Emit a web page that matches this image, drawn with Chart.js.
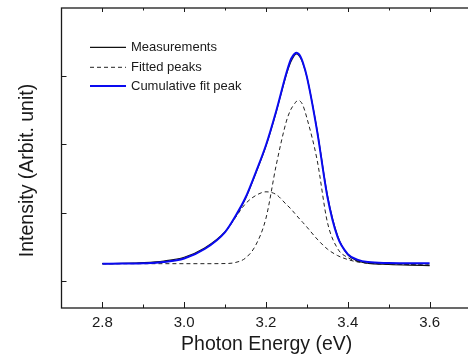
<!DOCTYPE html>
<html>
<head>
<meta charset="utf-8">
<script src="https://cdn.jsdelivr.net/npm/chart.js@4/dist/chart.umd.min.js"></script>
<style>
  html, body { margin: 0; padding: 0; background: #fff; overflow: hidden; }
  #wrap { width: 480px; height: 363px; }
</style>
</head>
<body>
<div id="wrap"><canvas id="myChart" width="480" height="363"></canvas></div>
<script>
// photon energy (eV) shared by all curves
const energy = [2.80, 2.85, 2.90, 2.95, 3.00, 3.05, 3.10, 3.125, 3.15, 3.175, 3.20, 3.225, 3.25,
  3.26, 3.265, 3.27, 3.275, 3.28, 3.285, 3.29, 3.30, 3.325, 3.35, 3.375, 3.40, 3.425, 3.45, 3.50, 3.55, 3.60];

const measured = [0.250, 0.254, 0.265, 0.290, 0.345, 0.480, 0.720, 0.935, 1.205, 1.575, 1.975, 2.475, 3.025,
  3.200, 3.260, 3.310, 3.325, 3.305, 3.260, 3.190, 2.990, 2.210, 1.260, 0.660, 0.380, 0.290, 0.255, 0.238, 0.228, 0.222];

const cumulative = [0.249, 0.251, 0.256, 0.274, 0.326, 0.465, 0.714, 0.945, 1.220, 1.590, 1.990, 2.490, 3.050,
  3.236, 3.290, 3.330, 3.345, 3.325, 3.280, 3.205, 2.990, 2.195, 1.236, 0.642, 0.391, 0.306, 0.274, 0.260, 0.255, 0.255];

const peakNarrow = [0.250, 0.250, 0.250, 0.250, 0.250, 0.250, 0.252, 0.267, 0.333, 0.523, 0.919, 1.696, 2.342,
  2.503, 2.555, 2.598, 2.635, 2.645, 2.625, 2.576, 2.386, 1.770, 0.861, 0.472, 0.340, 0.282, 0.260, 0.248, 0.238, 0.230];

const peakBroad = [0.250, 0.252, 0.258, 0.276, 0.330, 0.470, 0.710, 0.925, 1.130, 1.250, 1.304, 1.264, 1.117,
  1.060, 1.025, 0.990, 0.956, 0.920, 0.888, 0.855, 0.787, 0.611, 0.465, 0.369, 0.311, 0.274, 0.255, 0.245, 0.238, 0.230];

const xTicks = [2.8, 3.0, 3.2, 3.4, 3.6];
const xMinorTicks = [2.9, 3.1, 3.3, 3.5];
const yTicks = [0, 1, 2, 3];

const legendItems = [
  { label: 'Measurements', color: '#111', width: 1.2, dash: [] },
  { label: 'Fitted peaks', color: '#222', width: 1, dash: [4, 3] },
  { label: 'Cumulative fit peak', color: '#0a0af0', width: 2, dash: [] }
];

const FONT = '"Liberation Sans", Arial, sans-serif';
const TEXT = '#1a1a1a';

const pts = ys => energy.map((e, i) => ({ x: e, y: ys[i] }));

// frame, inward ticks, legend and y title
const decorations = {
  id: 'decorations',
  afterDraw(chart) {
    const { ctx, chartArea: a, scales: { x, y } } = chart;
    ctx.save();
    ctx.strokeStyle = '#1a1a1a';
    ctx.lineWidth = 1.3;
    ctx.setLineDash([]);
    ctx.strokeRect(a.left, a.top, a.right - a.left, a.bottom - a.top);

    ctx.lineWidth = 1;
    ctx.beginPath();
    xTicks.forEach(v => {
      const px = Math.round(x.getPixelForValue(v)) + 0.5;
      ctx.moveTo(px, a.bottom); ctx.lineTo(px, a.bottom - 6);
      ctx.moveTo(px, a.top); ctx.lineTo(px, a.top + 4);
    });
    xMinorTicks.forEach(v => {
      const px = Math.round(x.getPixelForValue(v)) + 0.5;
      ctx.moveTo(px, a.bottom); ctx.lineTo(px, a.bottom - 3.5);
      ctx.moveTo(px, a.top); ctx.lineTo(px, a.top + 2.5);
    });
    yTicks.forEach(v => {
      const py = Math.round(y.getPixelForValue(v)) + 0.5;
      ctx.moveTo(a.left, py); ctx.lineTo(a.left + 5, py);
    });
    ctx.stroke();

    // legend
    ctx.font = '13px ' + FONT;
    ctx.fillStyle = TEXT;
    ctx.textBaseline = 'middle';
    ctx.textAlign = 'left';
    const rows = [47.3, 67.3, 86];
    legendItems.forEach((it, i) => {
      ctx.strokeStyle = it.color;
      ctx.lineWidth = it.width;
      ctx.setLineDash(it.dash);
      ctx.beginPath();
      ctx.moveTo(90, rows[i]); ctx.lineTo(126, rows[i]);
      ctx.stroke();
      ctx.fillText(it.label, 131, rows[i]);
    });

    // axis titles
    ctx.setLineDash([]);
    ctx.font = '19.5px ' + FONT;
    ctx.textAlign = 'center';
    ctx.textBaseline = 'alphabetic';
    ctx.fillText('Photon Energy (eV)', 266.7, 349.5);
    ctx.translate(33, 170.5);
    ctx.rotate(-Math.PI / 2);
    ctx.fillText('Intensity (Arbit. unit)', 0, 0);
    ctx.restore();
  }
};

const line = (label, ys, color, width, dash) => ({
  label, data: pts(ys), borderColor: color, borderWidth: width, borderDash: dash,
  pointRadius: 0, fill: false, cubicInterpolationMode: 'monotone'
});

new Chart(document.getElementById('myChart'), {
  type: 'line',
  data: {
    datasets: [
      line('Cumulative fit peak', cumulative, '#0a0af0', 2, []),
      line('Measurements', measured, '#111', 1.1, []),
      line('Fitted peaks', peakNarrow, '#222', 1, [4, 3]),
      line('Fitted peaks', peakBroad, '#222', 1, [4, 3])
    ]
  },
  options: {
    responsive: false,
    animation: false,
    layout: { padding: { top: 8, right: 9.5, left: 0, bottom: 0 } },
    plugins: { legend: { display: false }, tooltip: { enabled: false } },
    scales: {
      x: {
        type: 'linear', min: 2.7, max: 3.7,
        afterFit: s => { s.height = 55; },
        afterBuildTicks: s => { s.ticks = xTicks.map(v => ({ value: v })); },
        grid: { display: false, drawTicks: false },
        border: { display: false },
        ticks: {
          padding: 6, color: TEXT, font: { family: FONT, size: 15 },
          maxRotation: 0, autoSkip: false,
          callback: v => v.toFixed(1)
        }
      },
      y: {
        min: -0.4, max: 4.0,
        afterFit: s => { s.width = 61.5; },
        grid: { display: false, drawTicks: false },
        border: { display: false },
        ticks: { display: false }
      }
    }
  },
  plugins: [decorations]
});
</script>
</body>
</html>
